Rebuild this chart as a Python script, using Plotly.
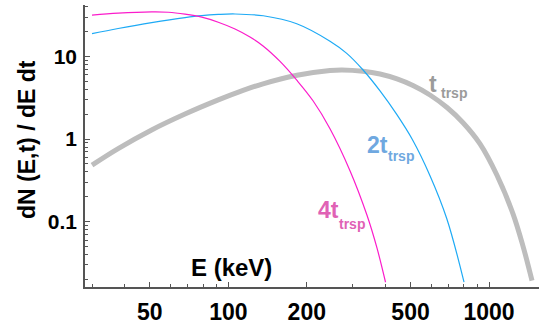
import math
import plotly.graph_objects as go

# Spectra dN(E,t)/dE dt at three times (E in keV)
e_t1 = [30, 37.8, 50.8, 68.2, 91.5, 113.9, 135.9, 183.4, 245.5, 273.0, 328.6,
        381.9, 443.7, 510.9, 593.8, 690.2, 795, 923.6, 1073, 1236, 1350, 1462]
v_t1 = [0.484, 0.767, 1.29, 2.01, 2.98, 3.89, 4.67, 5.93, 6.77, 6.88, 6.63,
        6.13, 5.35, 4.45, 3.42, 2.41, 1.579, 0.876, 0.365, 0.1247, 0.0507, 0.0193]

e_t2 = [30, 37.8, 50.8, 68.2, 79.1, 91.5, 106.1, 136.2, 183.0, 245.5, 284.6,
        329.5, 381.9, 442.6, 508.7, 593.8, 688.3, 802]
v_t2 = [18.9, 21.8, 25.7, 29.6, 31.3, 32.3, 32.7, 31.1, 24.9, 15.3, 10.9,
        6.81, 3.83, 1.99, 0.983, 0.361, 0.1094, 0.0186]

e_t4 = [30, 37.8, 50.8, 58.9, 68.2, 79.1, 91.5, 106.1, 121.1, 135.9, 157.9,
        183.4, 211.3, 245.5, 292.9, 340.4, 371.9, 400.9]
v_t4 = [31.6, 33.4, 34.6, 34.3, 32.5, 29.9, 26.0, 21.5, 17.2, 13.4, 8.71,
        5.13, 2.91, 1.337, 0.415, 0.1197, 0.0478, 0.0185]

x_ticks = [50, 100, 200, 500, 1000]
x_minor = [30, 40, 60, 70, 80, 90, 300, 400, 600, 700, 800, 900]
y_ticks = [0.1, 1, 10]
y_tick_text = ["0.1", "1", "10"]
y_minor = [0.02, 0.03, 0.04, 0.05, 0.06, 0.07, 0.08, 0.09,
           0.2, 0.3, 0.4, 0.5, 0.6, 0.7, 0.8, 0.9,
           2, 3, 4, 5, 6, 7, 8, 9, 20, 30, 40]

W, H = 539, 327
ML, MR, MT, MB = 85, 0, 5, 40
PW, PH = W - ML - MR, H - MT - MB
FONT = "Liberation Sans"
AXIS = "#555555"

fig = go.Figure()
fig.add_trace(go.Scatter(x=e_t1, y=v_t1, mode="lines",
                         line=dict(color="#bdbdbd", width=5, shape="spline")))
fig.add_trace(go.Scatter(x=e_t2, y=v_t2, mode="lines",
                         line=dict(color="#1eaaf5", width=1.2, shape="spline")))
fig.add_trace(go.Scatter(x=e_t4, y=v_t4, mode="lines",
                         line=dict(color="#fb1ccb", width=1.2, shape="spline")))


def px(x):
    return (x - ML) / PW


def py(y):
    return (H - MB - y) / PH


annotations = []


def label(text, x, y, size, color, angle=0):
    annotations.append(dict(text=text, x=px(x), y=py(y), xref="paper", yref="paper",
                            xanchor="center", yanchor="middle", showarrow=False,
                            textangle=angle,
                            font=dict(family=FONT, size=size, color=color, weight="bold")))


# curve labels: time followed by subscript
label("t", 433, 83.5, 23, "#9b9b9b")
label("trsp", 453.5, 92.5, 14, "#9b9b9b")
label("2t", 377.5, 145, 23, "#6fa8e0")
label("trsp", 400.5, 156, 14, "#6fa8e0")
label("4t", 328.5, 210, 23, "#e062b5")
label("trsp", 352, 224, 14, "#e062b5")

# axis titles
label("E (keV)", 231.5, 267.5, 24, "black")
label("dN (E,t) / dE dt", 27, 140, 23, "black", angle=-90)

fig.update_layout(
    width=W, height=H,
    margin=dict(l=ML, r=MR, t=MT, b=MB),
    paper_bgcolor="white", plot_bgcolor="white",
    showlegend=False,
    annotations=annotations,
)

fig.update_xaxes(
    type="log", range=[math.log10(28.2), math.log10(1555)],
    tickmode="array", tickvals=x_ticks, ticktext=[str(v) for v in x_ticks],
    ticks="inside", ticklen=5, tickwidth=1, tickcolor=AXIS,
    showline=True, linecolor=AXIS, linewidth=1.5,
    showgrid=False, zeroline=False, ticklabelstandoff=4,
    tickfont=dict(family=FONT, size=23, color="black", weight="bold"),
    minor=dict(tickmode="array", tickvals=x_minor, ticks="inside", ticklen=3,
               tickwidth=1, tickcolor=AXIS, showgrid=False),
)
fig.update_yaxes(
    type="log", range=[math.log10(0.0162), math.log10(42)],
    tickmode="array", tickvals=y_ticks, ticktext=y_tick_text,
    ticks="inside", ticklen=5, tickwidth=1, tickcolor=AXIS,
    showline=True, linecolor=AXIS, linewidth=1.5,
    showgrid=False, zeroline=False, ticklabelstandoff=2,
    tickfont=dict(family=FONT, size=21, color="black", weight="bold"),
    minor=dict(tickmode="array", tickvals=y_minor, ticks="inside", ticklen=3,
               tickwidth=1, tickcolor=AXIS, showgrid=False),
)

fig.write_html("out.html")
